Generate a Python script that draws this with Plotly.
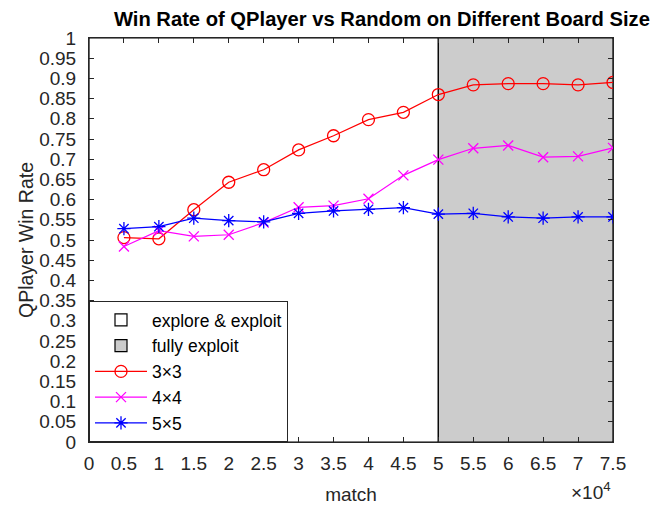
import plotly.graph_objects as go

matches = [5000, 10000, 15000, 20000, 25000, 30000, 35000, 40000, 45000, 50000,
           55000, 60000, 65000, 70000, 75000]
rate_3x3 = [0.506, 0.503, 0.575, 0.643, 0.674, 0.723, 0.758, 0.798, 0.816, 0.860,
            0.884, 0.887, 0.887, 0.884, 0.890]
rate_4x4 = [0.484, 0.523, 0.509, 0.513, 0.543, 0.581, 0.585, 0.602, 0.660, 0.699,
            0.727, 0.734, 0.705, 0.707, 0.728]
rate_5x5 = [0.528, 0.533, 0.554, 0.548, 0.545, 0.566, 0.572, 0.576, 0.580, 0.564,
            0.566, 0.557, 0.554, 0.557, 0.557]

phase_names = ["explore & exploit", "fully exploit"]
phase_bounds = [0, 50000, 75000]
phase_colors = ["white", "#CCCCCC"]

x_tickvals = [i * 5000 for i in range(16)]
x_ticktext = ["0", "0.5", "1", "1.5", "2", "2.5", "3", "3.5", "4", "4.5",
              "5", "5.5", "6", "6.5", "7", "7.5"]
y_tickvals = [i * 0.05 for i in range(21)]
y_ticktext = ["0", "0.05", "0.1", "0.15", "0.2", "0.25", "0.3", "0.35", "0.4", "0.45",
              "0.5", "0.55", "0.6", "0.65", "0.7", "0.75", "0.8", "0.85", "0.9", "0.95", "1"]

FONT = "Liberation Sans, Arial, Helvetica, sans-serif"
AXC = "#262626"

# page body has an 8px default margin: figure is sized to fit the 658x505 window
W, H = 650, 497

fig = go.Figure()

for i, name in enumerate(phase_names):
    x0, x1 = phase_bounds[i], phase_bounds[i + 1]
    fig.add_trace(go.Bar(
        x=[(x0 + x1) / 2], y=[1], width=[x1 - x0], base=0,
        marker=dict(color=phase_colors[i], line=dict(color="black", width=1.2)),
        name=name, hoverinfo="skip"))

series = [
    ("3×3", rate_3x3, "red", "circle-open", 12),
    ("4×4", rate_4x4, "#FF00FF", "x-thin-open", 10),
    ("5×5", rate_5x5, "blue", "asterisk-open", 11),
]
for name, vals, col, sym, sz in series:
    fig.add_trace(go.Scatter(
        x=matches, y=vals, mode="lines+markers", name=name,
        line=dict(color=col, width=1.2),
        marker=dict(symbol=sym, size=sz, color=col, line=dict(color=col, width=1.3))))

fig.update_layout(
    width=W, height=H,
    margin=dict(l=81, r=45, t=30, b=63, autoexpand=False),
    paper_bgcolor="white", plot_bgcolor="white",
    font=dict(family=FONT, size=17, color="#262626"),
    title=dict(text="<b>Win Rate of QPlayer vs Random on Different Board Size</b>",
               xref="paper", x=0.559, xanchor="center",
               yref="container", y=1 - 11 / H, yanchor="middle",
               font=dict(family=FONT, size=20.2, color="black")),
    xaxis=dict(range=[0, 75000], tickvals=x_tickvals, ticktext=x_ticktext,
               ticks="inside", ticklen=5, tickcolor=AXC, showgrid=False, zeroline=False,
               showline=True, linecolor=AXC, linewidth=1, mirror="ticks",
               tickfont=dict(size=19), automargin=False, ticklabelstandoff=4,
               title=dict(text="match", font=dict(size=19), standoff=14)),
    yaxis=dict(range=[0, 1], tickvals=y_tickvals, ticktext=y_ticktext,
               ticks="inside", ticklen=5, tickcolor=AXC, showgrid=False, zeroline=False,
               showline=True, linecolor=AXC, linewidth=1, mirror="ticks",
               tickfont=dict(size=19), automargin=False, ticklabelstandoff=8,
               title=dict(text="QPlayer Win Rate", font=dict(size=19.5), standoff=0)),
    legend=dict(x=0, y=0, xanchor="left", yanchor="bottom",
                bgcolor="white", bordercolor="#262626", borderwidth=1,
                font=dict(size=17.5, color="black"), tracegroupgap=0,
                itemwidth=52, traceorder="normal"),
    showlegend=True,
    barmode="overlay",
)

fig.add_annotation(text="×10<sup>4</sup>", xref="paper", yref="paper",
                   x=1.0, y=-(497 - 434) / 404, xanchor="right", yanchor="bottom",
                   showarrow=False, font=dict(size=19, color="#262626"))

fig.write_html("out.html")
